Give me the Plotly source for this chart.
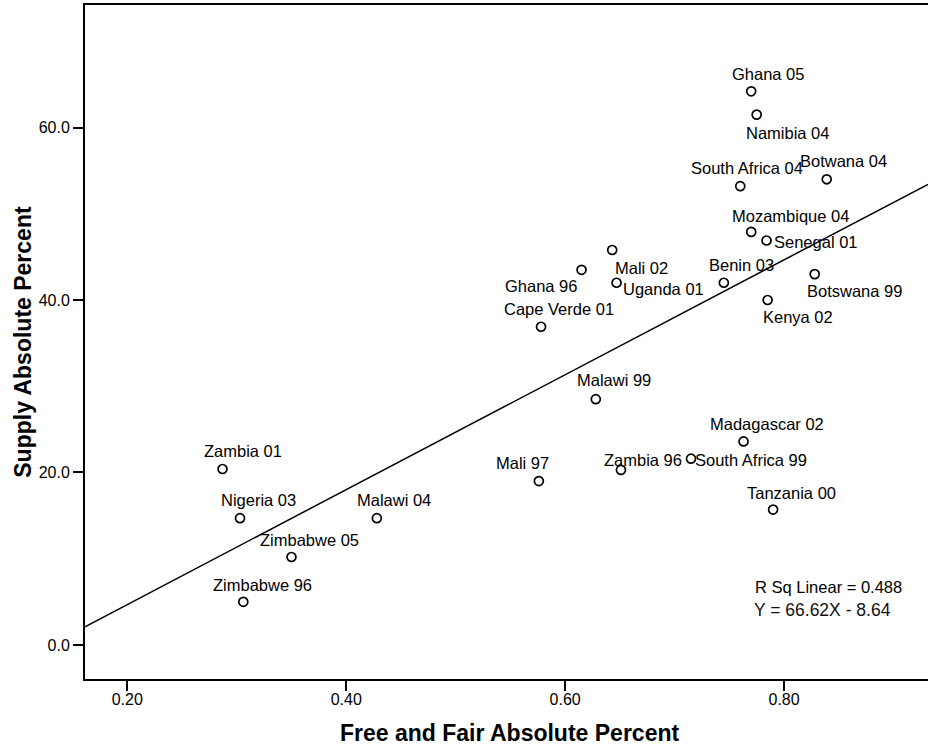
import plotly.graph_objects as go

# Country-election observations
labels = [
    "Ghana 05", "Namibia 04", "Botwana 04", "South Africa 04", "Mozambique 04",
    "Senegal 01", "Mali 02", "Ghana 96", "Uganda 01", "Benin 03",
    "Cape Verde 01", "Botswana 99", "Kenya 02", "Malawi 99", "Madagascar 02",
    "South Africa 99", "Zambia 96", "Mali 97", "Tanzania 00", "Zambia 01",
    "Nigeria 03", "Malawi 04", "Zimbabwe 05", "Zimbabwe 96",
]
free_fair = [
    0.770, 0.775, 0.839, 0.760, 0.770,
    0.784, 0.643, 0.615, 0.647, 0.745,
    0.578, 0.828, 0.785, 0.628, 0.763,
    0.715, 0.651, 0.576, 0.790, 0.287,
    0.303, 0.428, 0.350, 0.306,
]
supply = [
    64.2, 61.5, 54.0, 53.2, 47.9,
    46.9, 45.8, 43.5, 42.0, 42.0,
    36.9, 43.0, 40.0, 28.5, 23.6,
    21.6, 20.3, 19.0, 15.7, 20.4,
    14.7, 14.7, 10.2, 5.0,
]

# Linear fit reported on the chart
slope = 66.62
intercept = -8.64
r_squared = 0.488

x_ticks = [0.20, 0.40, 0.60, 0.80]
y_ticks = [0.0, 20.0, 40.0, 60.0]

x_range = [0.16137, 0.93151]
y_range = [-3.95, 74.21]

# Label placement (pixel shift from the point, anchor)
label_place = {
    "Ghana 05": (17, -17, "center"),
    "Namibia 04": (31, 18, "center"),
    "Botwana 04": (17, -18, "center"),
    "South Africa 04": (7, -18, "center"),
    "Mozambique 04": (39, -16, "center"),
    "Senegal 01": (5, 1, "left"),
    "Mali 02": (29, 18, "center"),
    "Ghana 96": (-41, 16, "center"),
    "Uganda 01": (4, 6, "left"),
    "Benin 03": (18, -18, "center"),
    "Cape Verde 01": (18, -18, "center"),
    "Botswana 99": (40, 17, "center"),
    "Kenya 02": (30, 17, "center"),
    "Malawi 99": (18, -19, "center"),
    "Madagascar 02": (23, -17, "center"),
    "South Africa 99": (2, 1, "left"),
    "Zambia 96": (22, -10, "center"),
    "Mali 97": (-16, -18, "center"),
    "Tanzania 00": (18, -17, "center"),
    "Zambia 01": (20, -18, "center"),
    "Nigeria 03": (18, -18, "center"),
    "Malawi 04": (17, -18, "center"),
    "Zimbabwe 05": (18, -17, "center"),
    "Zimbabwe 96": (19, -17, "center"),
}

LABEL_FONT = dict(family="Liberation Sans, Arial", size=16.5, color="black")

fig = go.Figure()

# Fit line across the visible x range
fit_x = list(x_range)
fit_y = [slope * v + intercept for v in fit_x]
fig.add_trace(go.Scatter(
    x=fit_x, y=fit_y, mode="lines",
    line=dict(color="black", width=1.5),
    hoverinfo="skip", showlegend=False,
))

fig.add_trace(go.Scatter(
    x=free_fair, y=supply, mode="markers",
    marker=dict(symbol="circle-open", size=9, color="black",
                line=dict(width=1.7, color="black")),
    text=labels, showlegend=False,
))

for name, xv, yv in zip(labels, free_fair, supply):
    dx, dy, anchor = label_place[name]
    fig.add_annotation(
        x=xv, y=yv, xref="x", yref="y", text=name, showarrow=False,
        xshift=dx, yshift=-dy, xanchor=anchor, yanchor="middle",
        font=LABEL_FONT,
    )

fig.add_annotation(
    x=0.9315 - 0.0235, y=6.7, xref="x", yref="y",
    text=f"R Sq Linear = {r_squared:.3f}", showarrow=False,
    xanchor="right", yanchor="middle", xshift=2,
    font=dict(family="Liberation Sans, Arial", size=16.5, color="black"),
)
fig.add_annotation(
    x=0.9315 - 0.032, y=4.0, xref="x", yref="y",
    text=f"Y = {slope:.2f}X - {abs(intercept):.2f}", showarrow=False,
    xanchor="right", yanchor="middle",
    font=dict(family="Liberation Sans", size=17.5, color="#111111"),
)

TITLE_FONT = dict(family="Liberation Sans, Arial", size=23, color="black")
fig.add_annotation(
    x=(509 - 85) / 843, y=(679 - 733) / 673.5, xref="paper", yref="paper",
    text="<b>Free and Fair Absolute Percent</b>", showarrow=False,
    xanchor="center", yanchor="middle", font=TITLE_FONT,
)
fig.add_annotation(
    x=(23 - 85) / 843, y=(679 - 342) / 673.5, xref="paper", yref="paper",
    text="<b>Supply Absolute Percent</b>", showarrow=False, textangle=-90,
    xanchor="center", yanchor="middle", font=TITLE_FONT,
)

axis_common = dict(
    showgrid=False, zeroline=False, showline=True, linecolor="black",
    linewidth=2, ticks="outside", ticklen=10, tickwidth=1.5, tickcolor="black",
    tickfont=dict(family="Liberation Sans, Arial", size=16, color="black"),
)
fig.update_xaxes(range=x_range, tickvals=x_ticks,
                 ticktext=[f"{v:.2f}" for v in x_ticks], mirror=True,
                 ticklabelstandoff=-5, **axis_common)
fig.update_yaxes(range=y_range, tickvals=y_ticks,
                 ticktext=[f"{v:.1f}" for v in y_ticks], mirror=False,
                 **axis_common)

fig.update_layout(
    width=928, height=755,
    margin=dict(l=85, r=0, t=5, b=76),
    paper_bgcolor="white", plot_bgcolor="white",
    showlegend=False,
)

fig.write_html("out.html")
